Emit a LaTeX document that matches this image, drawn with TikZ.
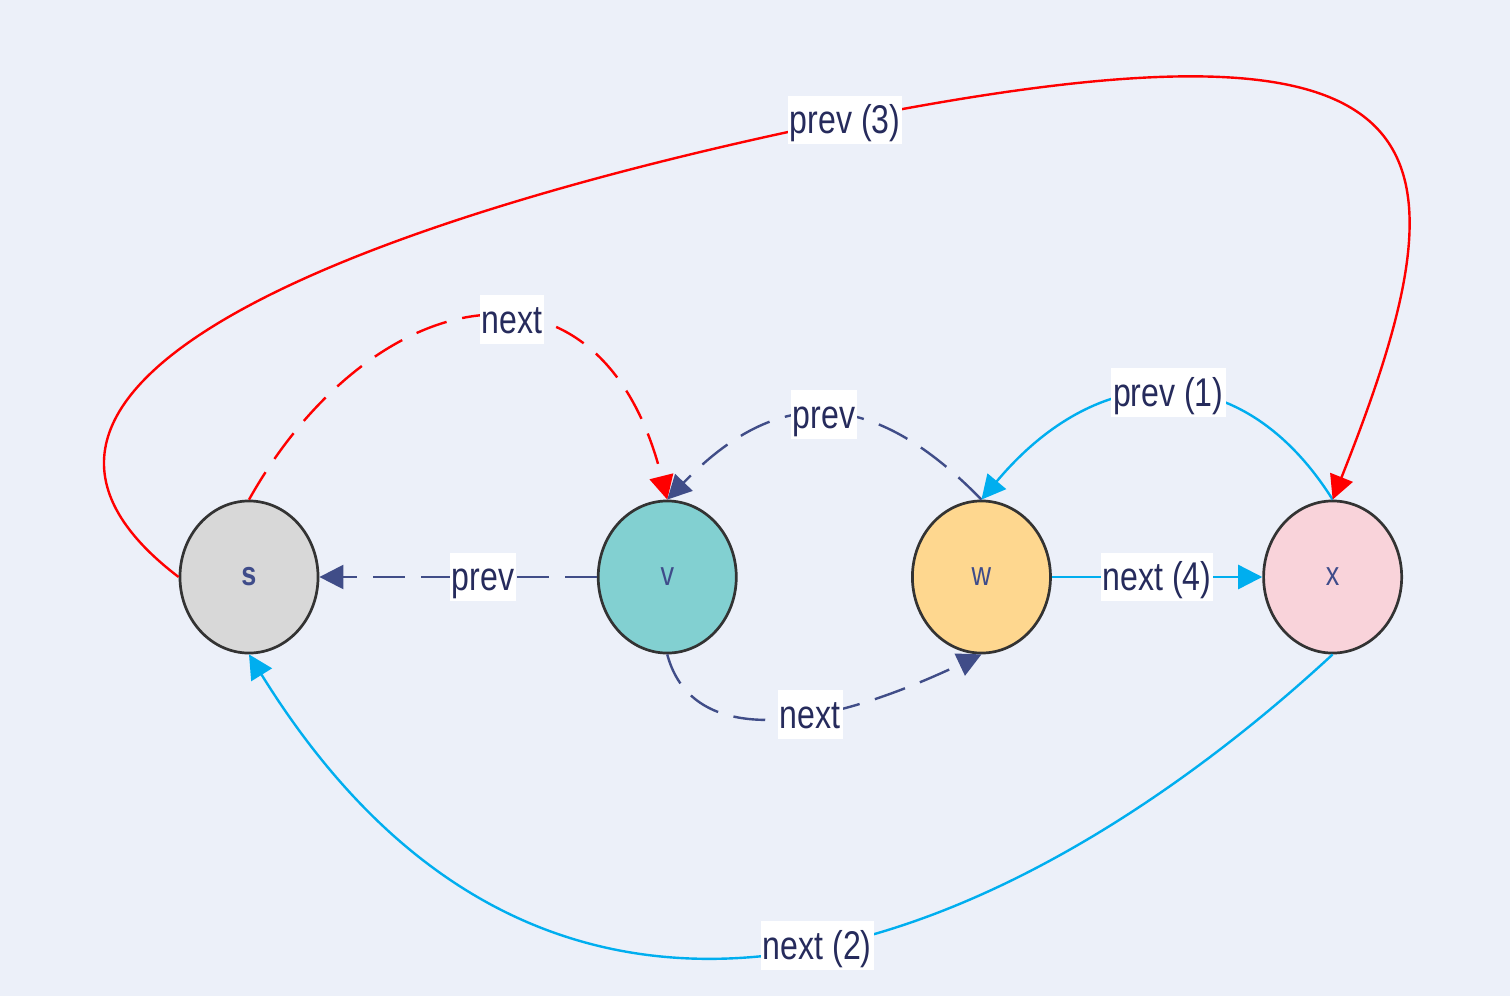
\documentclass[tikz,border=0pt]{standalone}
\usepackage{fontspec}
\setmainfont{Liberation Sans}[FakeStretch=0.8]
\usetikzlibrary{shapes.geometric}
\usetikzlibrary{arrows.meta}
\usetikzlibrary{positioning}

\definecolor{bgblue}{HTML}{ECF0F9}
\definecolor{sgray}{HTML}{D8D8D8}
\definecolor{vteal}{HTML}{82D0D1}
\definecolor{wgold}{HTML}{FED78F}
\definecolor{xpink}{HTML}{F9D3DA}
\definecolor{rim}{HTML}{333333}
\definecolor{nodetext}{HTML}{3F4C8A}
\definecolor{lbltext}{HTML}{262B5C}
\definecolor{navy}{HTML}{404D88}
\definecolor{linkcyan}{HTML}{00AEEF}
\definecolor{linkred}{HTML}{FF0000}

\begin{document}
\begin{tikzpicture}[x=0.01cm,y=0.01cm,>={Triangle[length=0.24cm,width=0.24cm]},line width=0.024cm,on grid,
    elem/.style={ellipse,draw=rim,line width=0.027cm,minimum width=1.38cm,minimum height=1.52cm,inner sep=0pt,text=nodetext,font=\fontsize{9.6}{11}\selectfont},
    lbl/.style={fill=white,text=lbltext,inner xsep=0.02cm,inner ysep=0.02cm,text height=0.36cm,text depth=0.085cm,font=\fontsize{11.4}{13}\selectfont},
    dashlink/.style={dash pattern=on 0.32cm off 0.16cm}]
        \fill[bgblue,use as bounding box] (0,0) rectangle (1510,996);
        \node[elem,fill=sgray,font=\fontsize{9.6}{11}\selectfont\bfseries] (s) at (249,419) {s};
        \node[elem,fill=vteal] (v) [right=4.18cm of s] {v};
        \node[elem,fill=wgold] (w) [right=3.14cm of v] {w};
        \node[elem,fill=xpink] (x) [right=3.51cm of w] {x};
        \path   (v) edge [navy,dashlink,->] node [lbl,pos=0.41] {prev} (s)
                (w) edge [linkcyan,->] node [lbl] {next (4)} (x);
        \draw[linkred,dashlink,->] (s.north) .. controls (370,712) and (600,764) .. (v.north) node [lbl,pos=0.57] {next};
        \draw[navy,dashlink,->] (w.north) .. controls (871,610) and (777,610) .. (v.north) node [lbl,pos=0.5] {prev};
        \draw[navy,dashlink,->] (v.south) .. controls (690,256) and (800,256) .. (w.south) node [lbl,pos=0.63] {next};
        \draw[linkcyan,->] (x.north) .. controls (1243,639) and (1101,639) .. (w.north) node [lbl,pos=0.5] {prev (1)};
        \draw[linkcyan,->] (x.south) .. controls (1050,80) and (571,-178) .. (s.south) node [lbl,pos=0.49] {next (2)};
        \draw[linkred,->] (s.west) .. controls (-80,616) and (380,781) .. (845,876) node [lbl] {prev (3)}
                .. controls (1450,996) and (1480,866) .. (x.north);
\end{tikzpicture}
\end{document}
